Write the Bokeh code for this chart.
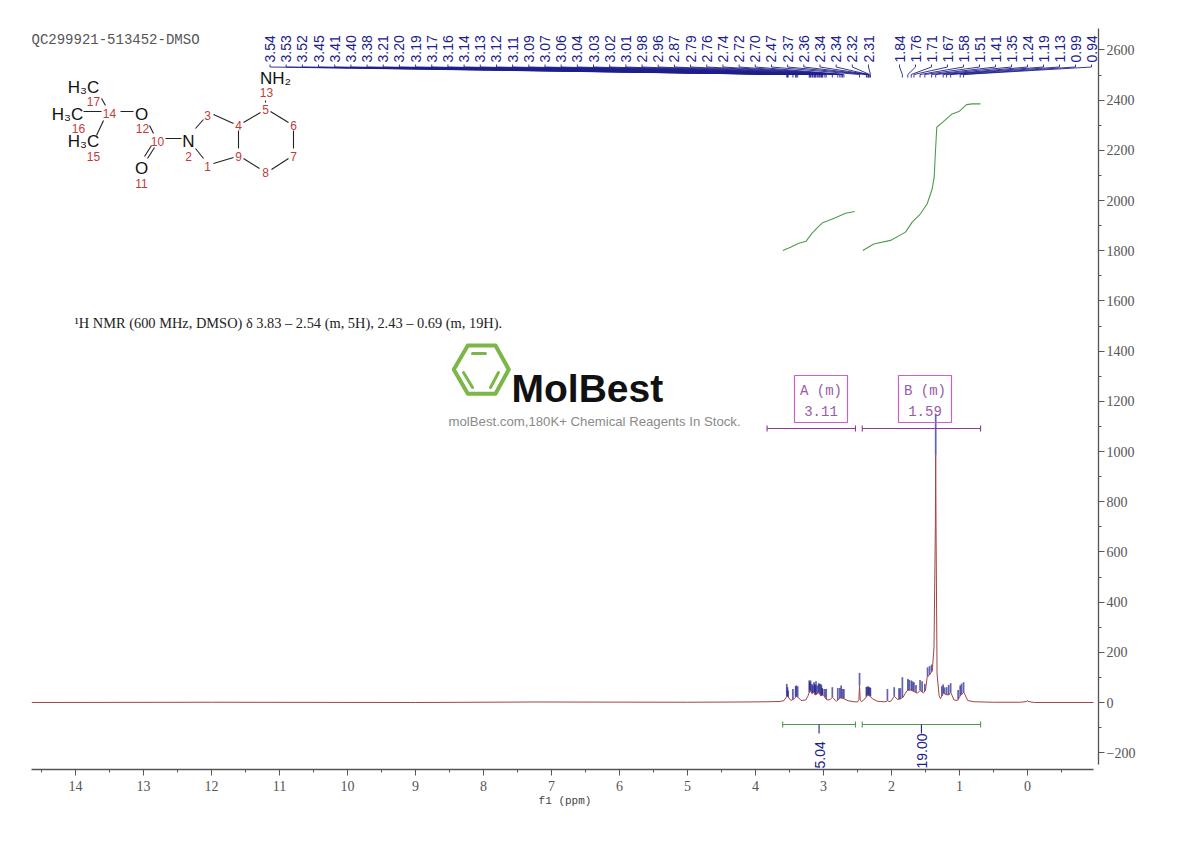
import numpy as np
from bokeh.plotting import figure
from bokeh.models import Range1d, FixedTicker
from bokeh.core.properties import value
from bokeh.embed import file_html
from bokeh.resources import INLINE

# ---------- data ----------
spec_ppm = [14.647, 12.0, 9.0, 7.26, 5.0, 4.2, 3.8, 3.64, 3.58, 3.54, 3.52, 3.48, 3.43, 3.40, 3.37, 3.33, 3.26, 3.23,
            3.20, 3.17, 3.14, 3.12, 3.09, 3.07, 3.04, 3.02, 3.00, 2.95, 2.90, 2.87, 2.81, 2.75, 2.70, 2.64, 2.55,
            2.50, 2.48, 2.47, 2.46, 2.44, 2.39, 2.35, 2.31, 2.28, 2.21, 2.11, 2.07, 2.06, 2.04, 2.01, 1.96, 1.91, 1.87,
            1.85, 1.83, 1.80, 1.77, 1.72, 1.67, 1.62, 1.58, 1.53, 1.50, 1.475, 1.43, 1.40, 1.375, 1.355, 1.35,
            1.345, 1.33, 1.30, 1.28, 1.24, 1.19, 1.16, 1.13, 1.08, 1.03, 0.985, 0.936, 0.88, 0.79, 0.5, 0.1, 0.01,
            0.0, -0.01, -0.1, -0.97]
spec_int = [0, 1, 0, 2, 1, 2, 3, 4, 8, 25, 22, 8, 15, 25, 20, 8, 10, 25,
            48, 36, 41, 30, 35, 40, 26, 30, 28, 10, 12, 21, 5, 19, 15, 7, 3,
            2, 12, 68, 10, 3, 15, 31, 24, 15, 5, 3, 4, 8, 4, 5, 25, 12, 14,
            18, 21, 35, 48, 50, 44, 37, 48, 38, 50, 101, 114, 127, 220, 700, 985,
            700, 114, 28, 15, 37, 31, 30, 41, 10, 8, 28, 41, 8, 3, 1, 1, 4,
            8, 4, 0, 0]

label_ppm_a = ["3.54", "3.53", "3.52", "3.45", "3.41", "3.40", "3.38", "3.21", "3.20", "3.19", "3.17", "3.16", "3.14",
               "3.13", "3.12", "3.11", "3.09", "3.07", "3.06", "3.04", "3.03", "3.02", "3.01", "2.98", "2.96", "2.87",
               "2.79", "2.76", "2.74", "2.72", "2.70", "2.47", "2.37", "2.36", "2.34", "2.34", "2.32", "2.31"]
stick_top_a = [74, 61, 48, 54, 65, 68, 65, 88, 81, 88, 74, 68, 81, 74, 68, 85, 68, 77, 74, 74, 68, 58, 54, 54, 54, 61,
               58, 58, 68, 54, 54, 118, 61, 64, 64, 61, 61, 58]
label_ppm_b = ["1.84", "1.76", "1.71", "1.67", "1.58", "1.51", "1.41", "1.35", "1.24", "1.19", "1.13", "0.99", "0.94"]
stick_top_b = [101, 94, 88, 81, 90, 74, 151, 1150, 72, 61, 77, 68, 81]
extra_stick_ppm = [2.06, 1.96, 1.89, 1.87, 1.74, 1.69, 1.64, 1.55, 1.47, 1.44, 1.26, 1.22, 1.16, 1.02, 0.97]
extra_stick_top = [54, 61, 57, 57, 90, 84, 70, 85, 140, 145, 65, 60, 70, 50, 75]

int_a_ppm = [3.598, 3.485, 3.363, 3.255, 3.167, 3.093, 3.02, 2.824, 2.676, 2.54]
int_a_val = [1801, 1814, 1830, 1838, 1870, 1891, 1910, 1931, 1949, 1956]
int_b_ppm = [2.422, 2.26, 2.015, 1.794, 1.696, 1.574, 1.475, 1.401, 1.372, 1.353, 1.334, 1.255, 1.108, 1.0, 0.897,
             0.813, 0.691]
int_b_val = [1801, 1827, 1841, 1874, 1914, 1947, 1987, 2047, 2093, 2199, 2292, 2310, 2345, 2356, 2382, 2385, 2385]

range_ppm = [(3.60, 2.53), (2.43, 0.69)]
integral_labels = ["5.04", "19.00"]
mult_ppm = [(3.83, 2.53), (2.43, 0.69)]
mult_labels = [("A (m)", "3.11"), ("B (m)", "1.59")]

x_ticks = list(range(0, 15))
y_ticks = list(range(-200, 2800, 200))

# ---------- page layout ----------
L, R, T, B = 31, 1098, 28, 769
FIG_W, FIG_H = 1182, 833
SCALE_X, ZERO_X = 68.0, 1027.0
SCALE_Y, ZERO_Y = 0.251, 702.0
NAVY = "#20208c"
GREEN = "#4f9a4f"
PURPLE = "#8c3a96"
SERIF = "Liberation Serif"
MONO = "Liberation Mono"
SANS = "Liberation Sans"

p = figure(width=FIG_W, height=FIG_H, output_backend="svg", toolbar_location=None,
           x_range=Range1d((ZERO_X - L) / SCALE_X, (ZERO_X - R) / SCALE_X),
           y_range=Range1d((ZERO_Y - B) / SCALE_Y, (ZERO_Y - T) / SCALE_Y),
           x_axis_location="below", y_axis_location="right",
           min_border_left=L, min_border_right=FIG_W - R, min_border_top=T, min_border_bottom=FIG_H - B,
           background_fill_color="white", border_fill_color="white")
p.extra_x_ranges["px"] = Range1d(L, R)
p.extra_y_ranges["px"] = Range1d(B, T)
p.outline_line_color = None
p.grid.visible = False

ax = p.xaxis[0]
ax.ticker = FixedTicker(ticks=x_ticks, minor_ticks=[i + 0.5 for i in range(-1, 15)])
ax.bounds = (-0.97, (ZERO_X - L) / SCALE_X)
ax.axis_label = "f1 (ppm)"
ax.axis_label_text_font = MONO
ax.axis_label_text_font_size = "11px"
ax.axis_label_text_font_style = "normal"
ax.axis_label_text_color = "#444444"
ax.axis_label_standoff = 1
ay = p.yaxis[0]
ay.ticker = FixedTicker(ticks=y_ticks, minor_ticks=list(range(-100, 2700, 200)))
ay.bounds = (-247, 2685)
for a in (ax, ay):
    a.axis_line_color = "#555555"
    a.axis_line_width = 1.3
    a.major_tick_line_color = "#555555"
    a.minor_tick_line_color = "#555555"
    a.major_tick_out = 6
    a.major_tick_in = 0
    a.minor_tick_out = 3
    a.minor_tick_in = 0
    a.major_label_text_font = SERIF
    a.major_label_text_font_size = "14px"
    a.major_label_text_color = "#555555"
    a.major_label_standoff = 2
ax.major_label_standoff = 5

# ---------- spectrum ----------
labels = label_ppm_a + label_ppm_b
peaks = np.array([float(s) for s in labels])
tops = np.array(stick_top_a + stick_top_b, dtype=float)
sp = np.array(spec_ppm)[::-1]
si = np.array(spec_int, dtype=float)[::-1]
all_ppm = np.concatenate([peaks, extra_stick_ppm])
all_top = np.concatenate([tops, extra_stick_top])
curve_at = np.interp(all_ppm, sp, si)
p.segment(all_ppm, all_top, all_ppm, curve_at, line_color=NAVY, line_alpha=0.7, line_width=1.7)
p.line(spec_ppm, spec_int, line_color="#a04545", line_width=1.0)

# ---------- integral curves ----------
p.line(int_a_ppm, int_a_val, line_color=GREEN, line_width=1.1)
p.line(int_b_ppm, int_b_val, line_color=GREEN, line_width=1.1)

# integral bars (page pixel layout for vertical positions)
for (a, b), lab in zip(range_ppm, integral_labels):
    xa, xb = ZERO_X - a * SCALE_X, ZERO_X - b * SCALE_X
    p.line([xa, xb], [724, 724], x_range_name="px", y_range_name="px", line_color=GREEN, line_width=1.1)
    p.segment([xa, xb], [721, 721], [xa, xb], [727, 727], x_range_name="px", y_range_name="px",
              line_color=GREEN, line_width=1.1)
    cx = (xa + xb) / 2
    p.segment([cx], [724], [cx], [733], x_range_name="px", y_range_name="px", line_color=NAVY, line_width=1.1)
    p.text([cx + 1], [768], text=[lab], x_range_name="px", y_range_name="px", angle=np.pi / 2,
           text_align="left", text_baseline="middle", text_color=NAVY, text_font=value(SANS),
           text_font_size="14px")

# multiplet boxes
for (a, b), (l1, l2), (bx0, bx1) in zip(mult_ppm, mult_labels, [(794, 847), (898, 951)]):
    xa, xb = ZERO_X - a * SCALE_X, ZERO_X - b * SCALE_X
    p.line([xa, xb], [428, 428], x_range_name="px", y_range_name="px", line_color=PURPLE, line_width=1.1)
    p.segment([xa, xb], [425, 425], [xa, xb], [431, 431], x_range_name="px", y_range_name="px",
              line_color=PURPLE, line_width=1.1)
    p.quad(left=[bx0], right=[bx1], top=[375], bottom=[422], x_range_name="px", y_range_name="px",
           fill_color=None, line_color="#cc5fcc", line_width=1.2)
    c = (bx0 + bx1) / 2
    p.text([c, c], [390, 410], text=[l1, l2], x_range_name="px", y_range_name="px", text_align="center",
           text_baseline="middle", text_color="#9a5aa5", text_font=value(MONO), text_font_size="14px")

# peak labels and leaders
slots = np.concatenate([np.linspace(269.5, 868, len(label_ppm_a)), np.linspace(899, 1091, len(label_ppm_b))])
p.text(slots, [62] * len(slots), text=labels, x_range_name="px", y_range_name="px", angle=np.pi / 2,
       text_align="left", text_baseline="middle", text_color=NAVY, text_font=value(SANS), text_font_size="14px")
xpk = ZERO_X - peaks * SCALE_X
p.multi_line([[s, s, k, k] for s, k in zip(slots, xpk)], [[64, 66.5, 74, 77]] * len(slots),
             x_range_name="px", y_range_name="px", line_color=NAVY, line_width=0.9)

# ---------- texts ----------
p.text([31], [39], text=["QC299921-513452-DMSO"], x_range_name="px", y_range_name="px", text_baseline="middle",
       text_color="#555555", text_font=value(MONO), text_font_size="14px")
p.text([74], [322], text=["\u00b9H NMR (600 MHz, DMSO) \u03b4 3.83 \u2013 2.54 (m, 5H), 2.43 \u2013 0.69 (m, 19H)."],
       x_range_name="px", y_range_name="px", text_baseline="middle", text_color="#222222",
       text_font=value(SERIF), text_font_size="14.4px")
p.text([448], [421], text=["molBest.com,180K+ Chemical Reagents In Stock."], x_range_name="px", y_range_name="px",
       text_baseline="middle", text_color="#8a8a8a", text_font=value(SANS), text_font_size="13.2px")

# ---------- logo ----------
p.patch([453.3, 467.3, 495, 508.3, 495, 467.3], [369, 345, 345, 369, 393.3, 393.3], x_range_name="px",
        y_range_name="px", fill_color=None, line_color="#7ab648", line_width=4, line_join="round")
p.segment([472, 463, 498], [353, 372, 372], [485, 472, 490], [353, 387, 387], x_range_name="px", y_range_name="px",
          line_color="#7ab648", line_width=3, line_cap="round")
p.text([511], [388], text=["MolBest"], x_range_name="px", y_range_name="px", text_baseline="alphabetic",
       text_color="#111111", text_font=value(SANS), text_font_style="bold", text_font_size="39px")

# ---------- molecule ----------
bx0 = [120, 83, 101, 103, 149, 151, 154, 165, 195, 195, 213, 213, 238, 243, 270, 293, 288, 259, 265]
by0 = [111, 111, 98, 120, 125, 145, 147, 138, 128, 148, 114, 163, 130, 122, 111, 130, 158, 168, 102]
bx1 = [133, 101, 105, 96, 153, 144, 147, 181, 203, 203, 233, 233, 238, 260, 288, 293, 271, 243, 265]
by1 = [111, 111, 105, 135, 133, 156, 158, 138, 119, 158, 123, 157, 148, 112, 122, 148, 169, 158, 100]
p.segment(bx0, by0, bx1, by1, x_range_name="px", y_range_name="px", line_color="#222222", line_width=1.1)

atom_txt = ["H\u2083C", "H\u2083C", "H\u2083C", "O", "N", "O", "NH\u2082"]
atom_x = [83, 67, 83, 141, 188, 141, 275]
atom_y = [87, 114, 141, 114, 141, 168, 78]
p.text(atom_x, atom_y, text=atom_txt, x_range_name="px", y_range_name="px", text_align="center",
       text_baseline="middle", text_color="#111111", text_font=value(SANS), text_font_size="17px")

num_txt = ["17", "14", "16", "15", "12", "10", "2", "11", "3", "1", "4", "9", "5", "6", "7", "8", "13"]
num_x = [93, 109, 78, 93, 142, 157, 188, 141, 207, 207, 238, 238, 265, 293, 293, 265, 266]
num_y = [101, 113, 128, 156, 128, 141, 156, 183, 115, 166, 125, 156, 109, 125, 156, 172, 92]
p.text(num_x, num_y, text=num_txt, x_range_name="px", y_range_name="px", text_align="center",
       text_baseline="middle", text_color="#c23a3a", text_font=value(SANS), text_font_size="12px")

open("out.html", "w").write(file_html(p, INLINE))
